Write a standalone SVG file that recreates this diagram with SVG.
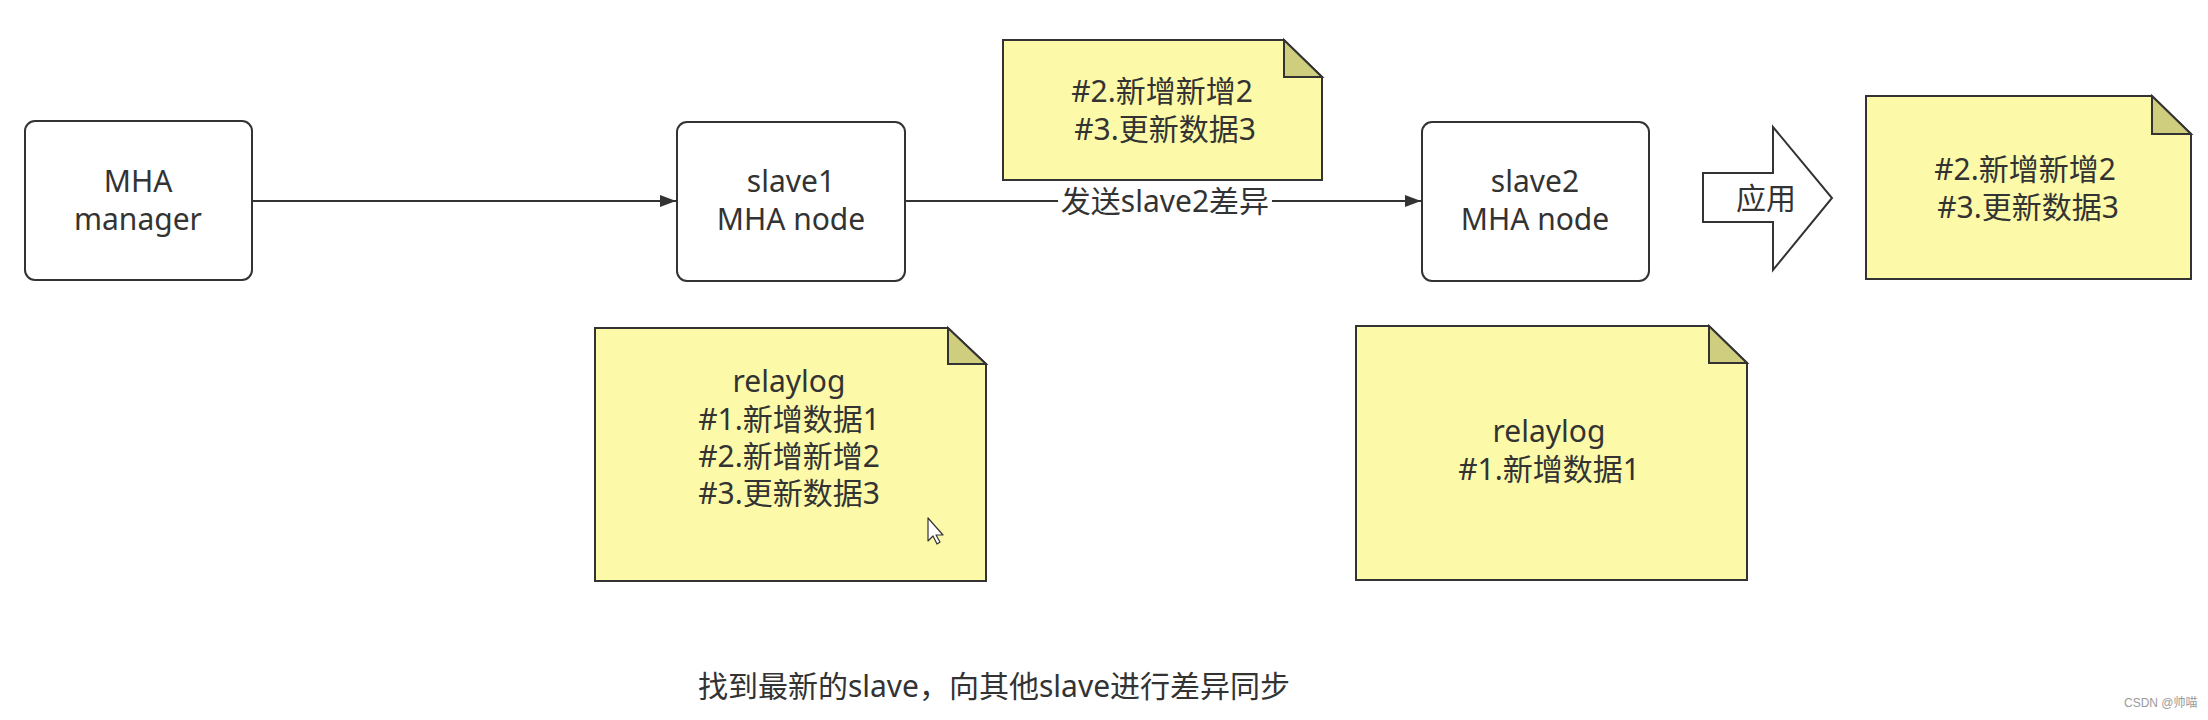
<svg xmlns="http://www.w3.org/2000/svg" width="2208" height="720" viewBox="0 0 2208 720">
  <style>
    .box { fill: #ffffff; stroke: #333333; stroke-width: 2; }
    .note { fill: #fcfaa8; stroke: #333333; stroke-width: 2; stroke-linejoin: miter; }
    .fold { fill: #cfcd7e; stroke: #333333; stroke-width: 2; stroke-linejoin: miter; }
    .edge { fill: none; stroke: #333333; stroke-width: 2; }
    .txt { font-family: "Noto Sans", "Noto Sans CJK SC", sans-serif; font-size: 30px; fill: #333333; text-anchor: middle; }
    .wm { font-family: "Liberation Sans", "Noto Sans CJK SC", sans-serif; font-size: 12px; fill: #9a9a9a; }
  </style>
  <defs>
    <marker id="arrow" viewBox="0 0 16 12" refX="16" refY="6" markerWidth="16" markerHeight="12" markerUnits="userSpaceOnUse" orient="auto">
      <path d="M0,0 L16,6 L0,12 Z" fill="#333333"/>
    </marker>
  </defs>

  <rect width="2208" height="720" fill="#ffffff"/>

  <!-- connectors -->
  <g id="connectors">
    <line class="edge" x1="252" y1="201" x2="676" y2="201" marker-end="url(#arrow)"/>
    <line class="edge" x1="905" y1="201" x2="1421" y2="201" marker-end="url(#arrow)"/>
    <rect x="1058" y="184" width="214" height="36" fill="#ffffff"/>
    <text class="txt" x="1165" y="212">发送slave2差异</text>
  </g>

  <!-- MHA manager -->
  <g id="mha-manager">
    <rect class="box" x="25" y="121" width="227" height="159" rx="10"/>
    <text class="txt" x="138" y="192">MHA</text>
    <text class="txt" x="138" y="230">manager</text>
  </g>

  <!-- slave1 -->
  <g id="slave1">
    <rect class="box" x="677" y="122" width="228" height="159" rx="10"/>
    <text class="txt" x="791" y="192">slave1</text>
    <text class="txt" x="791" y="230">MHA node</text>
  </g>

  <!-- slave2 -->
  <g id="slave2">
    <rect class="box" x="1422" y="122" width="227" height="159" rx="10"/>
    <text class="txt" x="1535" y="192">slave2</text>
    <text class="txt" x="1535" y="230">MHA node</text>
  </g>

  <!-- diff note above the transfer edge -->
  <g id="diff-note">
    <path class="note" d="M1003,40 H1284 L1322,77 V180 H1003 Z"/>
    <path class="fold" d="M1284,40 V77 H1322 Z"/>
    <text class="txt" x="1162" y="102">#2.新增新增2</text>
    <text class="txt" x="1165" y="140">#3.更新数据3</text>
  </g>

  <!-- apply arrow -->
  <g id="apply">
    <path class="box" d="M1703,173 H1773 V127 L1832,198 L1773,270 V222 H1703 Z"/>
    <text class="txt" x="1766" y="209">应用</text>
  </g>

  <!-- applied result note -->
  <g id="applied-note">
    <path class="note" d="M1866,96 H2152 L2191,134 V279 H1866 Z"/>
    <path class="fold" d="M2152,96 V134 H2191 Z"/>
    <text class="txt" x="2025" y="180">#2.新增新增2</text>
    <text class="txt" x="2028" y="218">#3.更新数据3</text>
  </g>

  <!-- slave1 relaylog -->
  <g id="relaylog1">
    <path class="note" d="M595,328 H948 L986,364 V581 H595 Z"/>
    <path class="fold" d="M948,328 V364 H986 Z"/>
    <text class="txt" x="789" y="392">relaylog</text>
    <text class="txt" x="789" y="430">#1.新增数据1</text>
    <text class="txt" x="789" y="467">#2.新增新增2</text>
    <text class="txt" x="789" y="504">#3.更新数据3</text>
    <!-- mouse pointer -->
    <path d="M928,518 V541 L933,536 L937,544 L940,542 L936,535 L943,535 Z" fill="#ffffff" stroke="#333333" stroke-width="1.2" stroke-linejoin="round"/>
  </g>

  <!-- slave2 relaylog -->
  <g id="relaylog2">
    <path class="note" d="M1356,326 H1709 L1747,363 V580 H1356 Z"/>
    <path class="fold" d="M1709,326 V363 H1747 Z"/>
    <text class="txt" x="1549" y="442">relaylog</text>
    <text class="txt" x="1549" y="480">#1.新增数据1</text>
  </g>

  <!-- caption -->
  <g id="caption">
    <text class="txt" x="994" y="697" font-size="29">找到最新的slave，向其他slave进行差异同步</text>
  </g>

  <text class="wm" x="2124" y="707">CSDN @帅喵</text>
</svg>
